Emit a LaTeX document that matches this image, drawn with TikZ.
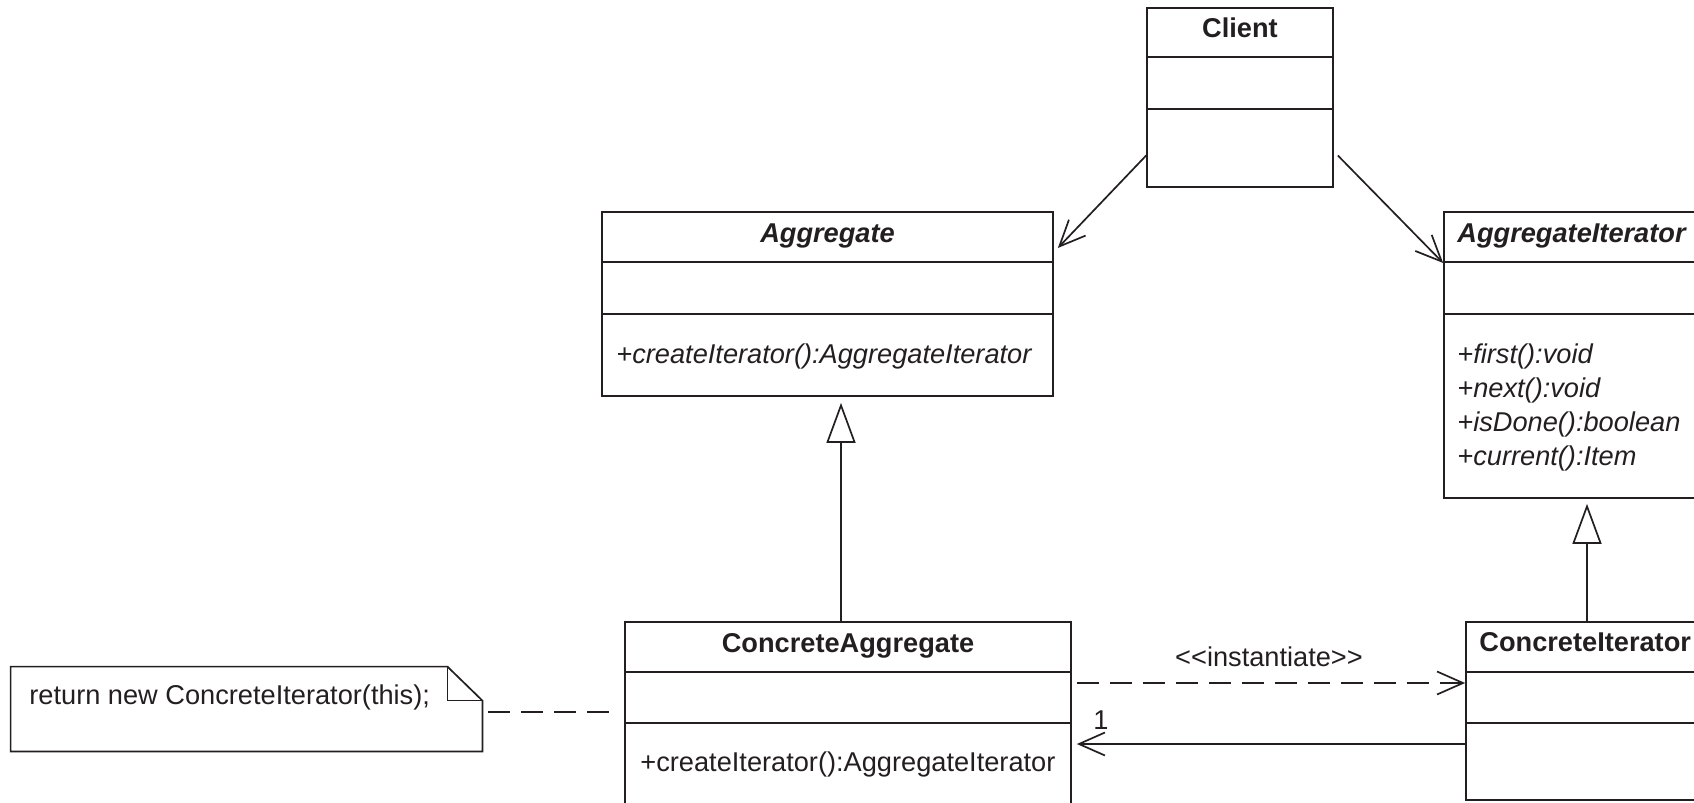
\documentclass[tikz,border=0pt]{standalone}
\usepackage{fontspec}
\setmainfont{Liberation Sans}
\usepackage{tikz}
\usetikzlibrary{arrows.meta}
\usetikzlibrary{calc}
\usetikzlibrary{fit}
\usetikzlibrary{positioning}
\definecolor{umlink}{RGB}{35,31,32}
\newcommand{\umlfont}{\fontsize{13.6}{17}\selectfont}
\newcommand{\divider}[2]{\draw[uml] (#1.west |- 0,#2) -- (#1.east |- 0,#2);}
\tikzset{
  uml/.style={draw=umlink, line width=0.85pt},
  classbox/.style={uml, rectangle, inner sep=0pt},
  txt/.style={text=umlink, inner sep=0pt},
  classname/.style={txt, font=\umlfont\bfseries},
  absname/.style={txt, font=\umlfont\bfseries\itshape},
  member/.style={txt, anchor=west, font=\umlfont},
  absmember/.style={txt, anchor=west, align=left, font=\umlfont\itshape},
  assoc/.style={uml, -{Straight Barb[length=13pt, width=11.5pt]}},
  depend/.style={assoc, dash pattern=on 11pt off 5.5pt},
  inherit/.style={uml, -{Triangle[open, length=20pt, width=14.5pt, fill=white]}},
  notelink/.style={uml, dash pattern=on 11pt off 5.5pt},
}

\begin{document}
\begin{tikzpicture}[x=0.5pt, y=-0.5pt]
  \useasboundingbox (0,0) rectangle (1694,803);
  \clip (0,0) rectangle (1694,803);

  % classes
  \node[classbox, fit={(1147,8) (1333,187)}] (client) {};
  \node[classbox, fit={(602,212) (1053,396)}] (agg) {};
  \node[classbox, fit={(1444,212) (1760,498)}] (aggit) {};
  \node[classbox, fit={(625,622) (1071,840)}] (cagg) {};
  \node[classbox, fit={(1466,622) (1760,800)}] (cit) {};

  \divider{client}{57} \divider{client}{109}
  \divider{agg}{262} \divider{agg}{314}
  \divider{aggit}{262} \divider{aggit}{314}
  \divider{cagg}{672} \divider{cagg}{723}
  \divider{cit}{672} \divider{cit}{723}

  \node[classname] (client-name) at (client.north |- 0,28) {Client};
  \node[absname] (agg-name) at (agg.north |- 0,236) {Aggregate};
  \node[absmember] (agg-ops) at (616,356) {+createIterator():AggregateIterator};
  \node[absname, anchor=west] (aggit-name) at (1457,236) {AggregateIterator};
  \node[absmember] (aggit-ops) at (1457,407) {+first():void\\+next():void\\+isDone():boolean\\+current():Item};
  \node[classname] (cagg-name) at (cagg.north |- 0,646) {ConcreteAggregate};
  \node[member] (cagg-ops) at (640,764) {+createIterator():AggregateIterator};
  \node[classname, anchor=west] (cit-name) at (1479,642) {ConcreteIterator};

  % note
  \node[inner sep=0pt, fit={(11,667) (482,751)}] (note) {};
  \draw[uml] (note.north west) -- ($(note.north east)+(-35,0)$) -- ($(note.north east)+(0,34)$)
    -- (note.south east) -- (note.south west) -- cycle;
  \draw[uml] ($(note.north east)+(-35,0)$) |- ($(note.north east)+(0,34)$);
  \node[member] (note-text) at (29,697) {return new ConcreteIterator(this);};
  \draw[notelink] ($(note.east |- 0,712)+(6,0)$) -- ($(cagg.west |- 0,712)+(-11,0)$);

  % relations
  \draw[assoc] ($(client.west)+(0,58)$) -- ($(agg.east)+(4,-56)$);
  \draw[assoc] ($(client.east)+(4,58)$) -- ($(aggit.west)+(0,-92)$);
  \draw[inherit] (cagg.north -| 841,0) -- ($(agg.south -| 841,0)+(0,6)$);
  \draw[inherit] (cit.north -| 1587,0) -- ($(aggit.south -| 1587,0)+(0,5)$);
  \draw[depend] ($(cagg.east |- 0,683)+(5,0)$) -- (cit.west |- 0,683);
  \node[member, anchor=center] (inst-label) at (1269,657) {<\kern0pt<instantiate>\kern0pt>};
  \draw[assoc] (cit.west |- 0,744) -- ($(cagg.east |- 0,744)+(5,0)$);
  \node[member, anchor=center] (one-label) at (1101,720) {1};
\end{tikzpicture}
\end{document}
